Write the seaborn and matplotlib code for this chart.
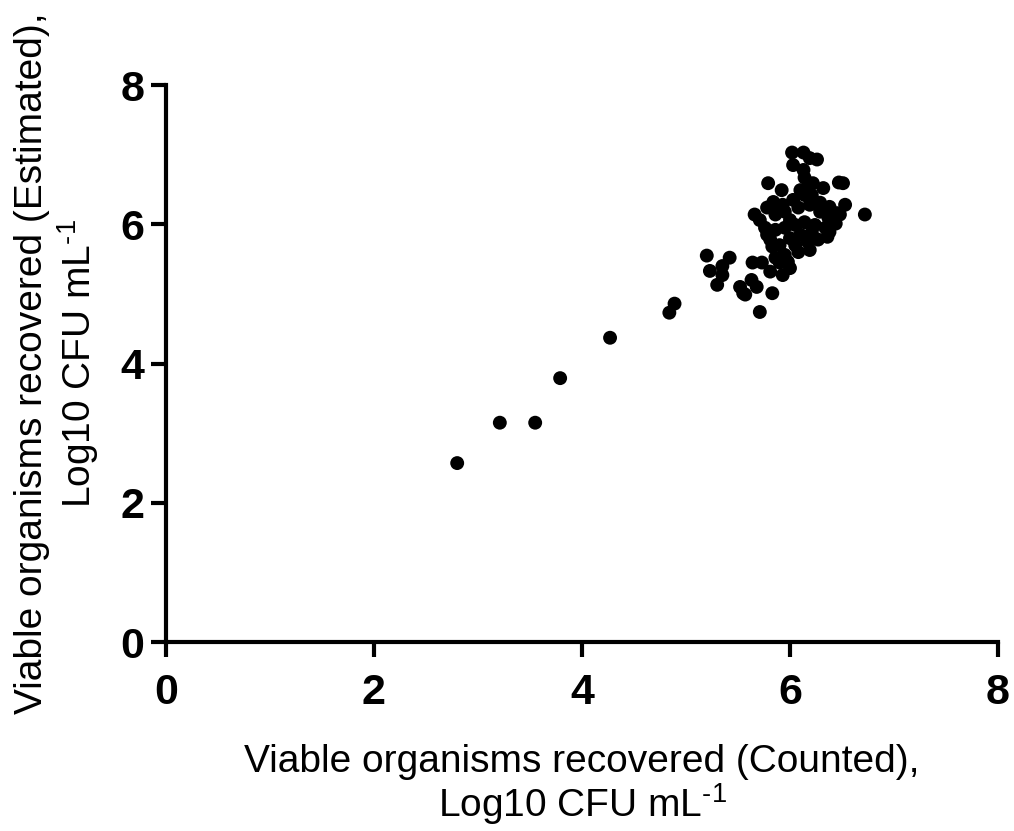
import numpy as np
import pandas as pd
import seaborn as sns
import matplotlib.pyplot as plt

# (Log10 CFU/mL)
counted = [
    2.80, 3.21, 3.55, 3.79, 4.27, 4.84, 4.89,
    5.20, 5.23, 5.35, 5.42, 5.35, 5.30, 5.52, 5.57, 5.64, 5.63, 5.68, 5.71,
    5.55, 5.83, 5.73, 5.81, 5.90, 5.98, 6.08, 6.36, 5.78, 5.83,
    6.02, 6.13, 6.03, 6.13, 6.26, 6.19, 5.79, 5.92, 6.51, 6.22, 6.32,
    5.84, 5.66, 5.71, 5.78, 5.93, 6.03, 6.14, 6.29, 6.38, 6.45, 6.72, 6.48, 6.19,
    5.86, 5.95, 6.05, 6.14, 6.24, 6.34, 6.00, 6.10, 6.21, 5.90, 6.05, 6.17, 6.27,
    5.95, 5.86, 5.93, 6.00, 6.19, 6.38, 6.44, 5.81, 5.76,
    5.95, 6.08, 6.19, 6.29, 6.37, 6.10, 6.21, 6.00, 5.86, 6.53, 6.14, 6.47,
]
estimated = [
    2.57, 3.15, 3.15, 3.79, 4.37, 4.73, 4.86,
    5.55, 5.33, 5.40, 5.52, 5.27, 5.13, 5.10, 4.99, 5.45, 5.20, 5.10, 4.74,
    5.01, 5.01, 5.45, 5.32, 5.45, 5.46, 5.60, 5.82, 5.85, 5.68,
    7.03, 7.03, 6.85, 6.78, 6.93, 6.95, 6.59, 6.49, 6.59, 6.59, 6.52,
    6.32, 6.14, 6.06, 6.24, 6.28, 6.35, 6.42, 6.31, 6.25, 6.16, 6.14, 6.14, 6.57,
    5.92, 5.95, 5.99, 6.03, 5.99, 5.95, 5.80, 5.85, 5.89, 5.70, 5.70, 5.75, 5.78,
    5.56, 5.52, 5.27, 5.37, 5.63, 5.89, 6.01, 5.78, 5.95,
    6.18, 6.24, 6.28, 6.18, 6.09, 6.49, 6.42, 6.06, 6.14, 6.28, 6.67, 6.60,
]
ticks = [0, 2, 4, 6, 8]

df = pd.DataFrame({"Counted": counted, "Estimated": estimated})

sns.set_style("ticks")
plt.rcParams["font.family"] = ["Liberation Sans", "DejaVu Sans"]
plt.rcParams["mathtext.fontset"] = "custom"
plt.rcParams["mathtext.rm"] = "Liberation Sans"
plt.rcParams["mathtext.it"] = "Liberation Sans"
for key in ["text.color", "axes.labelcolor", "xtick.color", "ytick.color", "axes.edgecolor"]:
    plt.rcParams[key] = "black"

fig = plt.figure(figsize=(10.14, 8.31), dpi=100)
ax = fig.add_axes([0.1637, 0.2274, 0.8205, 0.6703])

sns.scatterplot(
    data=df,
    x="Counted",
    y="Estimated",
    color="black",
    s=100,
    edgecolor="none",
    ax=ax
)

ax.set_xlim(0, 8)
ax.set_ylim(0, 8)
ax.set_xticks(ticks)
ax.set_yticks(ticks)
ax.tick_params(direction="out", length=10.5, width=3, labelsize=31)
ax.tick_params(axis="x", pad=12)
ax.tick_params(axis="y", pad=5)
for lab in ax.get_xticklabels() + ax.get_yticklabels():
    lab.set_fontweight("bold")

sns.despine(ax=ax)
for side in ["left", "bottom"]:
    ax.spines[side].set_linewidth(3)

ax.set_xlabel(
    "Viable organisms recovered (Counted),\nLog10 CFU mL$^{\\text{-1}}$",
    fontsize=28, labelpad=22, linespacing=1.05
)
ax.set_ylabel(
    "Viable organisms recovered (Estimated),\nLog10 CFU mL$^{\\text{-1}}$",
    fontsize=28, labelpad=14, linespacing=1.15
)

fig.savefig("out.png", dpi=100)
